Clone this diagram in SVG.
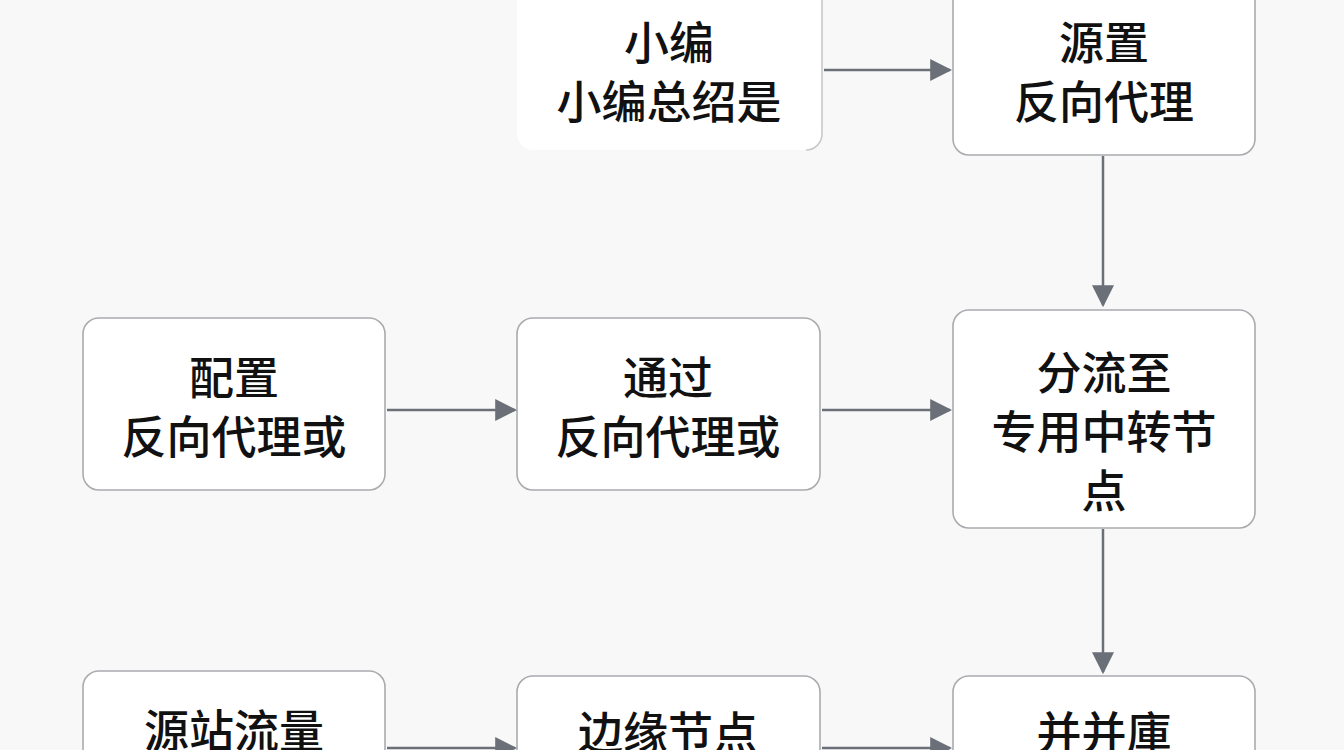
<svg xmlns="http://www.w3.org/2000/svg" width="1344" height="750" viewBox="0 0 1344 750">
<defs>
<style>
.n{fill:#fff;stroke:#a9abae;stroke-width:1.6}
.t{font-family:"Noto Sans CJK SC",sans-serif;font-size:45px;font-weight:500;fill:#111;text-anchor:middle;dominant-baseline:central}
.c{stroke:#6b7078;stroke-width:2.5;fill:none;marker-end:url(#a)}
</style>
<marker id="a" viewBox="0 0 10 10" refX="9" refY="5" markerWidth="22" markerHeight="22" markerUnits="userSpaceOnUse" orient="auto"><path d="M0 0L10 5L0 10z" fill="#6b7078"/></marker>
</defs>
<rect width="1344" height="750" fill="#f8f8f8"/>
<g id="n1"><rect x="517" y="-20" width="305" height="170" rx="16" fill="#fff"/><path d="M822 -5V134a16 16 0 0 1 -16 16" fill="none" stroke="#c8c8c8" stroke-width="1.6"/><text class="t" x="669" y="40">小编</text><text class="t" x="669" y="99">小编总绍是</text></g>
<g id="n2"><rect class="n" x="953" y="-20" width="302" height="175" rx="16"/><text class="t" x="1104" y="40">源置</text><text class="t" x="1104" y="99">反向代理</text></g>
<g id="n3"><rect class="n" x="83" y="318" width="302" height="172" rx="16"/><text class="t" x="234" y="375">配置</text><text class="t" x="234" y="434">反向代理或</text></g>
<g id="n4"><rect class="n" x="517" y="318" width="303" height="172" rx="16"/><text class="t" x="668" y="375">通过</text><text class="t" x="668" y="434">反向代理或</text></g>
<g id="n5"><rect class="n" x="953" y="310" width="302" height="218" rx="16"/><text class="t" x="1104" y="370">分流至</text><text class="t" x="1104" y="429">专用中转节</text><text class="t" x="1104" y="488">点</text></g>
<g id="n6"><rect class="n" x="83" y="671" width="302" height="120" rx="16"/><text class="t" x="234" y="728">源站流量</text></g>
<g id="n7"><rect class="n" x="517" y="676" width="303" height="120" rx="16"/><text class="t" x="668" y="730">边缘节点</text></g>
<g id="n8"><rect class="n" x="953" y="676" width="302" height="120" rx="16"/><text class="t" x="1104" y="730">并并庫</text></g>
<g id="connectors">
<path class="c" d="M824 70H950"/>
<path class="c" d="M1103 156V305"/>
<path class="c" d="M387 410H515"/>
<path class="c" d="M822 410H950"/>
<path class="c" d="M1103 529V672"/>
<path class="c" d="M387 748H515"/>
<path class="c" d="M822 748H950"/>
</g>
</svg>
